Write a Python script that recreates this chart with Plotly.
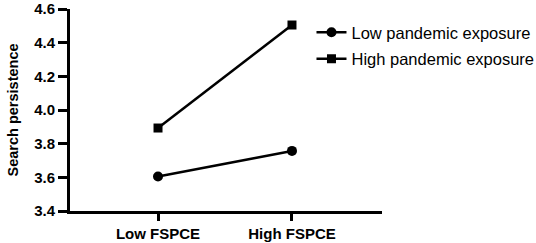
import plotly.graph_objects as go

categories = ["Low FSPCE", "High FSPCE"]
low_exposure = [3.605, 3.757]
high_exposure = [3.893, 4.505]
series_names = ["Low pandemic exposure", "High pandemic exposure"]
y_ticks = [3.4, 3.6, 3.8, 4.0, 4.2, 4.4, 4.6]

x_idx = list(range(len(categories)))
FONT = "Liberation Sans, Arial, sans-serif"

fig = go.Figure()
fig.add_trace(go.Scatter(x=x_idx, y=low_exposure, name=series_names[0], mode="lines+markers",
                         legendgroup="a",
                         line=dict(color="black", width=2.5),
                         marker=dict(symbol="circle", size=10, color="black")))
fig.add_trace(go.Scatter(x=x_idx, y=high_exposure, name=series_names[1], mode="lines+markers",
                         legendgroup="b",
                         line=dict(color="black", width=2.5),
                         marker=dict(symbol="square", size=9, color="black")))

fig.update_layout(
    width=536, height=243,
    margin=dict(l=70, r=154, t=9, b=32, autoexpand=False),
    plot_bgcolor="white", paper_bgcolor="white",
    font=dict(family=FONT, color="black"),
    showlegend=True,
    legend=dict(x=0.774, y=0.97, xanchor="left", yanchor="top",
                font=dict(size=16.5, color="black", family=FONT), tracegroupgap=2,
                bgcolor="rgba(0,0,0,0)", itemwidth=30),
    xaxis=dict(range=[-0.657, 1.672], tickvals=x_idx, ticktext=categories,
               showline=True, linecolor="black", linewidth=3, automargin=False,
               ticks="outside", ticklen=7, tickwidth=3, tickcolor="black",
               showgrid=False, zeroline=False, ticklabeloverflow="allow",
               tickfont=dict(size=15, family=FONT, weight="bold")),
    yaxis=dict(range=[3.4, 4.6001], tickvals=y_ticks, tickformat=".1f",
               showline=True, linecolor="black", linewidth=3, automargin=False,
               ticks="outside", ticklen=9, tickwidth=3, tickcolor="black",
               showgrid=False, zeroline=False, ticklabeloverflow="allow",
               title=dict(text="Search persistence", standoff=13,
                          font=dict(size=14.5, family=FONT, weight="bold")),
               tickfont=dict(size=15, family=FONT, weight="bold")),
)

fig.write_html("out.html", config={"displayModeBar": False},
               post_script="document.body.style.margin='0';")
